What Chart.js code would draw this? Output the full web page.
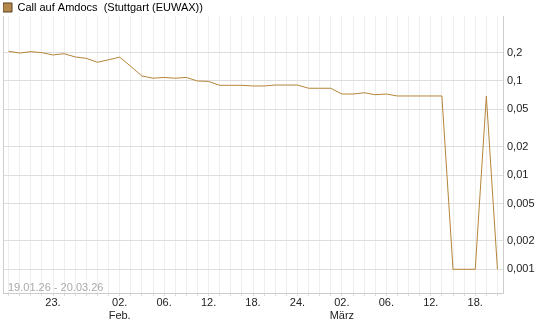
<!DOCTYPE html>
<html>
<head>
<meta charset="utf-8">
<script src="https://cdn.jsdelivr.net/npm/chart.js@4"></script>
<style>
html,body{margin:0;padding:0;background:#fff;}
#wrap{width:545px;height:327px;position:relative;}
</style>
</head>
<body>
<div id="wrap"><canvas id="c" width="545" height="327"></canvas></div>
<script>
const seriesName = 'Call auf Amdocs  (Stuttgart (EUWAX))';
const dateRange = '19.01.26 - 20.03.26';
const dates = ['19.01','20.01','21.01','22.01','23.01','26.01','27.01','28.01','29.01','30.01',
  '02.02','03.02','04.02','05.02','06.02','09.02','10.02','11.02','12.02','13.02',
  '16.02','17.02','18.02','19.02','20.02','23.02','24.02','25.02','26.02','27.02',
  '02.03','03.03','04.03','05.03','06.03','09.03','10.03','11.03','12.03','13.03',
  '16.03','17.03','18.03','19.03','20.03'];
const values = [0.207,0.198,0.205,0.200,0.189,0.195,0.180,0.174,0.158,0.168,
  0.179,0.143,0.113,0.107,0.109,0.107,0.109,0.100,0.099,0.090,
  0.090,0.090,0.0885,0.0885,0.0906,0.0906,0.0906,0.0837,0.0837,0.0837,
  0.0727,0.0727,0.075,0.0715,0.0727,0.0693,0.0693,0.0693,0.0693,0.0693,
  0.001,0.001,0.001,0.069,0.001];
const xTickLabels = {'23.01':'23.','02.02':['02.','Feb.'],'06.02':'06.','12.02':'12.','18.02':'18.',
  '24.02':'24.','02.03':['02.','März'],'06.03':'06.','12.03':'12.','18.03':'18.'};
const yTicks = [0.001,0.002,0.005,0.01,0.02,0.05,0.1,0.2];
const yMin = 0.00056, yMax = 0.49;

const lineColor = '#b5853a';
const FONT = "'Liberation Sans', Arial, sans-serif";

const extras = {
  id: 'extras',
  afterDraw(chart) {
    const {ctx, chartArea} = chart;
    ctx.save();
    ctx.strokeStyle = '#cccccc';
    ctx.lineWidth = 1;
    ctx.beginPath();
    ctx.moveTo(Math.round(chartArea.left) + 0.5, chartArea.top);
    ctx.lineTo(Math.round(chartArea.left) + 0.5, chartArea.bottom);
    ctx.stroke();
    ctx.font = '11px ' + FONT;
    ctx.fillStyle = '#aaaaaa';
    ctx.textBaseline = 'alphabetic';
    ctx.textAlign = 'left';
    ctx.fillText(dateRange, chartArea.left + 5, chartArea.bottom - 2);
    ctx.restore();
  }
};

new Chart(document.getElementById('c'), {
  type: 'line',
  data: {
    labels: dates,
    datasets: [{
      label: seriesName,
      data: values,
      borderColor: lineColor,
      backgroundColor: '#b5894d',
      borderWidth: 1,
      pointRadius: 0,
      tension: 0,
      fill: false
    }]
  },
  options: {
    responsive: false,
    animation: false,
    devicePixelRatio: 1,
    layout: {padding: {left: 3, top: 2, right: 0, bottom: 0}},
    plugins: {
      legend: {
        display: true,
        position: 'top',
        align: 'start',
        maxHeight: 14,
        labels: {
          boxWidth: 9, boxHeight: 9, padding: 0,
          color: '#222', font: {family: FONT, size: 11},
          generateLabels(chart) {
            return [{text: seriesName, fillStyle: '#b5894d', strokeStyle: '#5a4020', lineWidth: 1, datasetIndex: 0}];
          }
        }
      },
      tooltip: {enabled: false}
    },
    scales: {
      x: {
        type: 'category',
        offset: true,
        grid: {display: true, color: '#eeeeee', offset: false, tickLength: 3, tickColor: '#dddddd'},
        border: {display: true, color: '#cccccc'},
        ticks: {
          autoSkip: false, maxRotation: 0, minRotation: 0, padding: 1,
          color: '#222', font: {family: FONT, size: 11, lineHeight: 1.15},
          callback(v, i) { const d = dates[i]; return xTickLabels[d] !== undefined ? xTickLabels[d] : ''; }
        },
        afterFit(axis) { axis.height = 34; axis.paddingLeft = 0; axis.paddingRight = 0; }
      },
      y: {
        type: 'logarithmic',
        position: 'right',
        min: yMin, max: yMax,
        afterBuildTicks(axis) { axis.ticks = yTicks.map(v => ({value: v})); },
        grid: {color: '#dddddd', tickLength: 0, drawTicks: false},
        border: {display: true, color: '#cccccc'},
        ticks: {
          padding: 4, color: '#222', font: {family: FONT, size: 11},
          callback(v) { return String(v).replace('.', ','); }
        },
        afterFit(axis) { axis.width = 42; axis.paddingTop = 0; axis.paddingBottom = 0; }
      }
    }
  },
  plugins: [extras]
});
</script>
</body>
</html>
